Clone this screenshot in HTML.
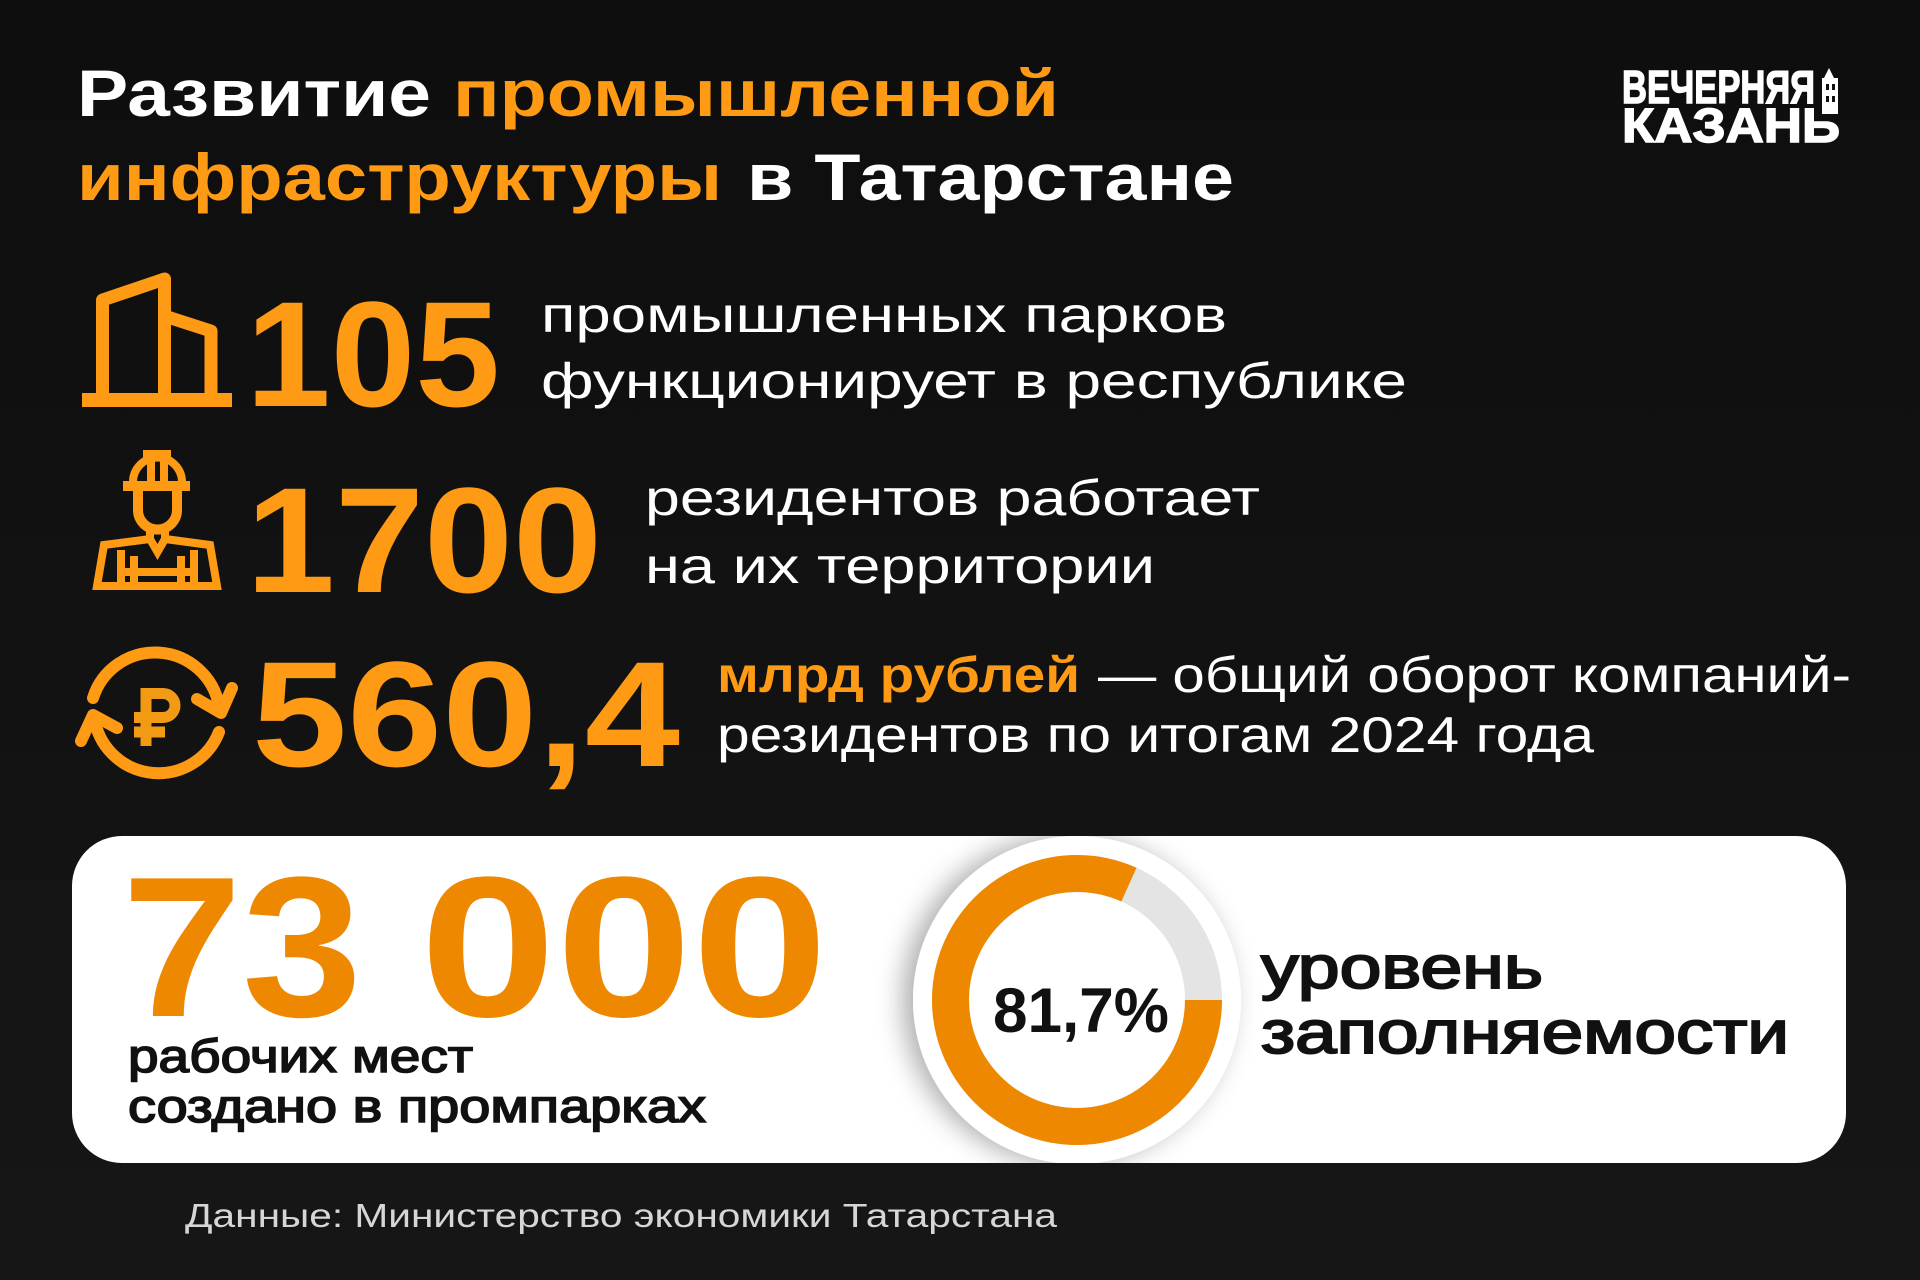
<!DOCTYPE html>
<html><head><meta charset="utf-8"><style>html,body{margin:0;padding:0;background:#111;}svg{display:block;}</style></head>
<body>
<svg xmlns="http://www.w3.org/2000/svg" width="1920" height="1280" viewBox="0 0 1920 1280">
<defs>
<linearGradient id="bg" x1="0" y1="0" x2="0" y2="1"><stop offset="0" stop-color="#0e0e0e"/><stop offset="1" stop-color="#161616"/></linearGradient>
<filter id="sh" x="-40%" y="-40%" width="180%" height="180%"><feDropShadow dx="-10" dy="0" stdDeviation="13" flood-color="#000" flood-opacity="0.32"/></filter>
<clipPath id="card"><rect x="72" y="836" width="1774" height="327" rx="50"/></clipPath>
</defs>
<rect width="1920" height="1280" fill="url(#bg)"/>

<!-- Title -->
<g font-family="'Liberation Sans', sans-serif" font-weight="bold" font-size="66">
<text x="77" y="116" fill="#fff" textLength="354" lengthAdjust="spacingAndGlyphs">Развитие</text>
<text x="453" y="116" fill="#FF9A14" textLength="606" lengthAdjust="spacingAndGlyphs">промышленной</text>
<text x="77" y="200" fill="#FF9A14" textLength="645" lengthAdjust="spacingAndGlyphs">инфраструктуры</text>
<text x="747" y="200" fill="#fff" textLength="487" lengthAdjust="spacingAndGlyphs">в Татарстане</text>
</g>

<!-- Logo -->
<g font-family="'Liberation Sans', sans-serif" font-weight="bold" fill="#fff" stroke="#fff" stroke-width="1.5">
<text x="1622" y="103" font-size="46" textLength="193" lengthAdjust="spacingAndGlyphs">ВЕЧЕРНЯЯ</text>
<text x="1622" y="142" font-size="48" textLength="218" lengthAdjust="spacingAndGlyphs">КАЗАНЬ</text>
</g>
<g fill="#fff">
<polygon points="1829,68 1834,78 1824,78"/>
<rect x="1822" y="78" width="16" height="36"/>
<rect x="1826" y="84" width="3" height="6" fill="#111"/>
<rect x="1832" y="84" width="3" height="6" fill="#111"/>
<rect x="1826" y="96" width="3" height="6" fill="#111"/>
<rect x="1832" y="96" width="3" height="6" fill="#111"/>
</g>

<!-- Building icon -->
<g fill="none" stroke="#FF9A14" stroke-width="13" stroke-linejoin="round">
<path d="M102.5 396 V300 L164.5 279 V396"/>
<path d="M164.5 316 L211 331 V396"/>
</g>
<rect x="82" y="393" width="150" height="14" fill="#FF9A14"/>

<!-- Worker icon -->
<g fill="none" stroke="#FF9A14" stroke-width="8" stroke-linejoin="miter">
<path d="M133 482 A24.5 24.5 0 0 1 182 482"/>
<path d="M151 458 V482 M164 458 V482"/>
<path d="M138 491 V510 A19.5 19.5 0 0 0 177 510 V491" stroke-width="10"/>
<path d="M150 530 V540 M165 530 V540"/>
<path d="M104 545 L150 539 L157.5 552 L165 539 L210 545 L217 586 L97 586 Z"/>
<path d="M121 550 V586 M134 556 V586 M181 556 V586 M194 550 V586 M121 572 H194"/>
</g>
<rect x="143" y="450" width="28" height="9" fill="#FF9A14"/>
<rect x="123" y="481" width="67" height="10" fill="#FF9A14"/>

<!-- Ruble icon -->
<g fill="none" stroke="#FF9A14" stroke-width="12" stroke-linecap="round" stroke-linejoin="round">
<path d="M93 698 A65 65 0 0 1 219 706"/>
<path d="M197 699 L221 713 L232 688"/>
<path d="M219 732 A65 65 0 0 1 95 722"/>
<path d="M117 728 L93 715 L81 741"/>
</g>
<g fill="none" stroke="#F29A14" stroke-width="11">
<path d="M146 688 V746"/>
<path d="M141 693.5 H163 A12 12 0 0 1 163 717.5 H134"/>
<path d="M134 732 H165"/>
</g>

<!-- Big numbers -->
<g font-family="'Liberation Sans', sans-serif" font-weight="bold" fill="#FF9A14" font-size="150">
<text x="246" y="406" textLength="254" lengthAdjust="spacingAndGlyphs">105</text>
<text x="246" y="592" textLength="356" lengthAdjust="spacingAndGlyphs">1700</text>
<text x="252" y="766" textLength="428" lengthAdjust="spacingAndGlyphs">560,4</text>
</g>

<!-- Descriptions -->
<g font-family="'Liberation Sans', sans-serif" fill="#fff" font-size="50">
<text x="541" y="332" textLength="686" lengthAdjust="spacingAndGlyphs">промышленных парков</text>
<text x="541" y="398" textLength="866" lengthAdjust="spacingAndGlyphs">функционирует в республике</text>
<text x="645" y="515" textLength="615" lengthAdjust="spacingAndGlyphs">резидентов работает</text>
<text x="645" y="583" textLength="510" lengthAdjust="spacingAndGlyphs">на их территории</text>
<text x="1098" y="692" textLength="753" lengthAdjust="spacingAndGlyphs">— общий оборот компаний-</text>
<text x="717" y="752" textLength="877" lengthAdjust="spacingAndGlyphs">резидентов по итогам 2024 года</text>
</g>
<text x="717" y="692" font-family="'Liberation Sans', sans-serif" font-weight="bold" font-size="50" fill="#FF9A14" textLength="363" lengthAdjust="spacingAndGlyphs">млрд рублей</text>

<!-- Card -->
<rect x="72" y="836" width="1774" height="327" rx="50" fill="#fff"/>
<g clip-path="url(#card)"><circle cx="1077" cy="1000" r="164" fill="#fff" filter="url(#sh)"/></g>
<circle cx="1077" cy="1000" r="126.5" fill="none" stroke="#E4E4E4" stroke-width="37"/>
<circle cx="1077" cy="1000" r="126.5" fill="none" stroke="#EE8800" stroke-width="37" stroke-dasharray="649.4 2000"/>

<g font-family="'Liberation Sans', sans-serif" font-weight="bold" fill="#EE8800" font-size="200">
<text x="122" y="1016" textLength="240" lengthAdjust="spacingAndGlyphs">73</text>
<text x="420" y="1016" textLength="408" lengthAdjust="spacingAndGlyphs">000</text>
</g>
<text x="993" y="1032" font-family="'Liberation Sans', sans-serif" font-weight="bold" font-size="63" fill="#111" textLength="176" lengthAdjust="spacingAndGlyphs">81,7%</text>

<g font-family="'Liberation Sans', sans-serif" fill="#111" stroke="#111">
<text x="1261" y="988" font-size="60" stroke-width="2" textLength="282" lengthAdjust="spacingAndGlyphs">уровень</text>
<text x="1261" y="1053" font-size="60" stroke-width="2" textLength="528" lengthAdjust="spacingAndGlyphs">заполняемости</text>
<text x="128" y="1072" font-size="46" stroke-width="1.6" textLength="345" lengthAdjust="spacingAndGlyphs">рабочих мест</text>
<text x="128" y="1122" font-size="46" stroke-width="1.6" textLength="578" lengthAdjust="spacingAndGlyphs">создано в промпарках</text>
</g>

<!-- Source -->
<text x="185" y="1227" font-family="'Liberation Sans', sans-serif" font-size="33" fill="#d6d6d6" textLength="872" lengthAdjust="spacingAndGlyphs">Данные: Министерство экономики Татарстана</text>
</svg>
</body></html>
